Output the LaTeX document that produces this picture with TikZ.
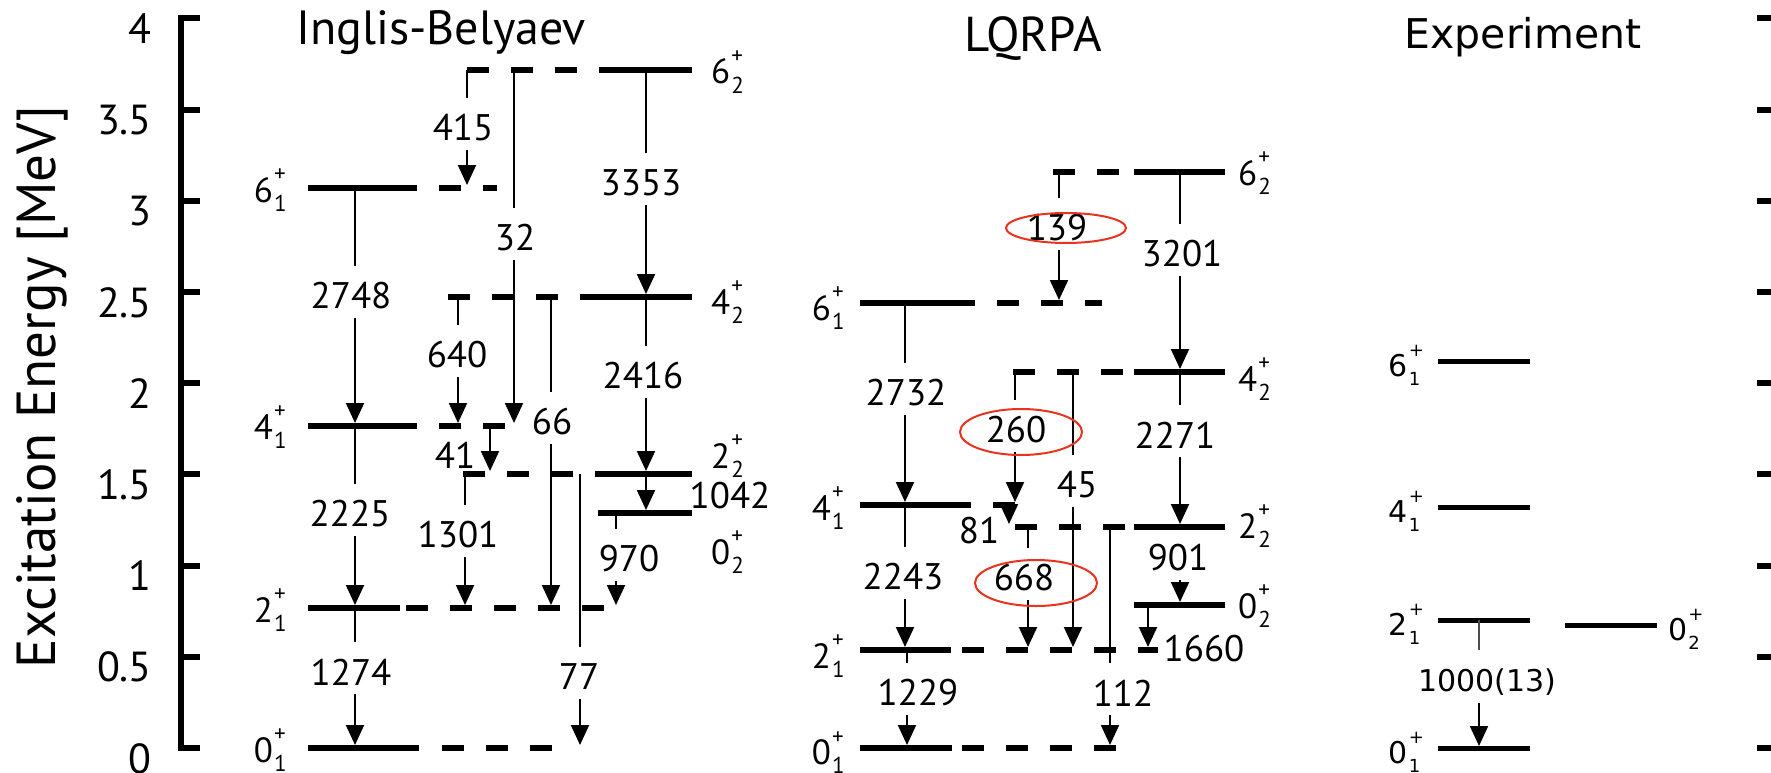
\documentclass[tikz,border=0pt]{standalone}
\usepackage{fontspec}
\setmainfont{PT Sans}
\newfontfamily\expfont{DejaVu Sans}
\usetikzlibrary{arrows.meta}

\definecolor{markred}{RGB}{232,52,30}

% font size helper (1pt = 1 px of the drawing grid)
\newcommand\fsz[1]{\fontsize{#1}{#1}\selectfont}
% level label J^+_n, theory font
\newcommand\lv[2]{#1\kern1pt{\fsz{23}\makebox[0.6em][l]{\rlap{\raisebox{0.87em}{+}}\raisebox{-0.43em}{#2}}}}
% level label J^+_n, experiment font
\newcommand\elv[2]{#1\kern1pt{\fsz{18}\makebox[0.66em][l]{\rlap{\raisebox{1.1em}{+}}\raisebox{-0.55em}{#2}}}}

% transition with its intensity label set into a gap of the line
% #1 name, #2 line x, #3 upper level y, #4 lower level y, #5 label x, #6 label y, #7 text
\newcommand\gtrans[7]{%
  \coordinate (#1s) at (#2,#3);
  \coordinate (#1e) at (#2,#4-3);
  \node[num] (#1) at (#5,#6) {#7};
  \coordinate (#1u) at (#2,#6-30);
  \coordinate (#1d) at (#2,#6+22);
  \draw[tln] (#1s) -- (#1u);
  \draw[tln,arr] (#1d) -- (#1e);
}
% plain transition arrow: #1 name, #2 x, #3 upper y, #4 lower y
\newcommand\ptrans[4]{%
  \coordinate (#1s) at (#2,#3);
  \coordinate (#1e) at (#2,#4-3);
  \draw[tln,arr] (#1s) -- (#1e);
}

\begin{document}
\begin{tikzpicture}[x=1pt,y=-1pt,
  lvl/.style={line width=6pt},
  dlvl/.style={line width=6pt, dash pattern=on 22pt off 22pt},
  elvl/.style={line width=5pt},
  tln/.style={line width=2pt},
  arr/.style={-{Triangle[length=20pt,width=18pt]}},
  num/.style={font=\fsz{37}, inner sep=0pt},
  enum/.style={font=\expfont\fsz{30}, inner sep=0pt},
  lab/.style={font=\fsz{35}, inner sep=0pt},
  elab/.style={font=\expfont\fsz{30}, inner sep=0pt},
  ring/.style={draw=markred, line width=2pt},
  axis/.style={line width=6pt}]

\fill[white] (0,0) rectangle (1771,773);
\useasboundingbox (0,0) rectangle (1771,773);

% ---------------- energy axes ----------------
\draw[axis] (200,18.4) -- (181,18.4) -- (181,748) -- (200,748);
\foreach \v [count=\i] in {0,0.5,1,1.5,2,2.5,3,3.5,4}{
  \draw[axis] (181,748-182.4*\v) -- (200,748-182.4*\v);
  \draw[axis] (1757,748-182.4*\v) -- (1771,748-182.4*\v);
  \node[font=\fsz{42}, inner sep=0pt, anchor=north east] (tick\i) at (152,743-182.4*\v) {\v};
}
\node[font=\fsz{55}, rotate=90, anchor=base, inner sep=0pt] (ytitle) at (55,387) {Excitation Energy [MeV]};

% ---------------- titles ----------------
\node[font=\fsz{48}, anchor=base, inner sep=0pt] (tib) at (441,45) {Inglis-Belyaev};
\node[font=\fsz{49}, anchor=base, inner sep=0pt] (tlq) at (1033,52) {LQRPA};
\node[font=\expfont\fsz{41}, anchor=base, inner sep=0pt] (tex) at (1523,49) {Experiment};

% ================= Inglis-Belyaev =================
% ground band
\draw[lvl] (308,748) -- (419,748);  \draw[dlvl, dash phase=22pt] (420,748) -- (555,748);
\draw[lvl] (308,608) -- (400,608);  \draw[dlvl] (406,608) -- (607,608);
\draw[lvl] (308,426) -- (417,426);  \draw[dlvl, dash phase=22pt] (417,426) -- (507,426);
\draw[lvl] (308,188) -- (417,188);  \draw[dlvl, dash phase=22pt] (417,188) -- (497,188);
% side band
\draw[dlvl] (467,70) -- (599,70);   \draw[lvl] (599,70) -- (692,70);
\draw[dlvl] (448,297) -- (600,297); \draw[lvl] (600,297) -- (692,297);
\draw[dlvl] (463,474) -- (598,474); \draw[lvl] (598,474) -- (692,474);
\draw[lvl] (598,513) -- (692,513);

\node[lab, anchor=base east] (ib61) at (288,202) {\lv{6}{1}};
\node[lab, anchor=base east] (ib41) at (288,439) {\lv{4}{1}};
\node[lab, anchor=base east] (ib21) at (288,622) {\lv{2}{1}};
\node[lab, anchor=base east] (ib01) at (288,762) {\lv{0}{1}};
\node[lab, anchor=base west] (ib62) at (711,84)  {\lv{6}{2}};
\node[lab, anchor=base west] (ib42) at (711,314) {\lv{4}{2}};
\node[lab, anchor=base west] (ib22) at (711,468) {\lv{2}{2}};
\node[lab, anchor=base west] (ib02) at (711,564) {\lv{0}{2}};

\gtrans{ibA}{355}{188}{426}{351}{296}{2748}
\gtrans{ibB}{355}{426}{608}{350}{514}{2225}
\gtrans{ibC}{355}{608}{748}{351}{672}{1274}
\gtrans{ibD}{467}{70}{188}{463}{128}{415}
\gtrans{ibE}{514}{70}{426}{515}{238}{32}
\gtrans{ibF}{458}{297}{426}{457}{355}{640}
\gtrans{ibG}{551}{297}{608}{552}{422}{66}
\gtrans{ibH}{465}{474}{608}{458}{535}{1301}
\gtrans{ibI}{580}{474}{748}{579}{677}{77}
\gtrans{ibJ}{646}{70}{297}{641}{183}{3353}
\gtrans{ibK}{646}{297}{474}{643}{376}{2416}
\gtrans{ibL}{616}{513}{608}{629}{559}{970}
\ptrans{ibM}{490}{426}{474}
\node[num] (ibMl) at (455,455) {41};
\ptrans{ibN}{646}{474}{513}
\node[num] (ibNl) at (730,496) {1042};

% ================= LQRPA =================
\draw[lvl] (860,748) -- (952,748);  \draw[dlvl] (962,748) -- (1118,748);
\draw[lvl] (860,650) -- (951,650);  \draw[dlvl] (962,650) -- (1158,650);
\draw[lvl] (860,505) -- (971,505);  \draw[dlvl, dash phase=22pt] (971,505) -- (1016,505);
\draw[lvl] (860,303) -- (975,303);  \draw[dlvl, dash phase=22pt] (975,303) -- (1102,303);
\draw[dlvl] (1053,172) -- (1134,172); \draw[lvl] (1134,172) -- (1225,172);
\draw[dlvl] (1013,372) -- (1134,372); \draw[lvl] (1134,372) -- (1225,372);
\draw[dlvl] (1015,527) -- (1134,527); \draw[lvl] (1134,527) -- (1225,527);
\draw[lvl] (1134,605) -- (1225,605);

\node[lab, anchor=base east] (lq61) at (846,320) {\lv{6}{1}};
\node[lab, anchor=base east] (lq41) at (846,520) {\lv{4}{1}};
\node[lab, anchor=base east] (lq21) at (846,668) {\lv{2}{1}};
\node[lab, anchor=base east] (lq01) at (846,764) {\lv{0}{1}};
\node[lab, anchor=base west] (lq62) at (1238,185) {\lv{6}{2}};
\node[lab, anchor=base west] (lq42) at (1238,391) {\lv{4}{2}};
\node[lab, anchor=base west] (lq22) at (1238,538) {\lv{2}{2}};
\node[lab, anchor=base west] (lq02) at (1238,618) {\lv{0}{2}};

\gtrans{lqA}{905}{303}{505}{906}{393}{2732}
\gtrans{lqB}{905}{505}{650}{903}{577}{2243}
\gtrans{lqC}{907}{650}{748}{918}{693}{1229}
\gtrans{lqD}{1059}{172}{303}{1057}{228}{139}
\gtrans{lqE}{1015}{372}{505}{1016}{430}{260}
\gtrans{lqF}{1073}{372}{650}{1077}{485}{45}
\gtrans{lqG}{1028}{527}{650}{1024}{578}{668}
\gtrans{lqH}{1110}{527}{748}{1123}{693}{112}
\gtrans{lqI}{1180}{172}{372}{1182}{254}{3201}
\gtrans{lqJ}{1180}{372}{527}{1175}{435}{2271}
% 901: arrow only below its label
\node[num] (lqK) at (1178,558) {901};
\coordinate (lqKd) at (1180,580);
\coordinate (lqKe) at (1180,602);
\draw[tln,arr] (lqKd) -- (lqKe);
\ptrans{lqL}{1009}{505}{527}
\node[num] (lqLl) at (979,531) {81};
\ptrans{lqM}{1148}{605}{650}
\node[num] (lqMl) at (1204,649) {1660};

% highlighted intensities
\draw[ring] (1066,228) ellipse [x radius=60, y radius=15];
\draw[ring] (1021,432) ellipse [x radius=61, y radius=23];
\draw[ring] (1036,583) ellipse [x radius=61, y radius=23];

% ================= Experiment =================
\draw[elvl] (1438,361) -- (1530,361);
\draw[elvl] (1438,507) -- (1530,507);
\draw[elvl] (1438,620) -- (1530,620);
\draw[elvl] (1438,748.5) -- (1530,748.5);
\draw[elvl] (1565,625) -- (1657,625);

\node[elab, anchor=base east] (ex61) at (1421,376) {\elv{6}{1}};
\node[elab, anchor=base east] (ex41) at (1421,522) {\elv{4}{1}};
\node[elab, anchor=base east] (ex21) at (1421,635) {\elv{2}{1}};
\node[elab, anchor=base east] (ex01) at (1421,763) {\elv{0}{1}};
\node[elab, anchor=base west] (ex02) at (1668,640) {\elv{0}{2}};

\coordinate (exAs) at (1479,620);
\coordinate (exAe) at (1479,746);
\node[enum] (exA) at (1487,682) {1000(13)};
\coordinate (exAu) at (1479,650);
\coordinate (exAd) at (1479,703);
\draw[tln, black!70] (exAs) -- (exAu);
\draw[tln, arr] (exAd) -- (exAe);

\end{tikzpicture}
\end{document}
